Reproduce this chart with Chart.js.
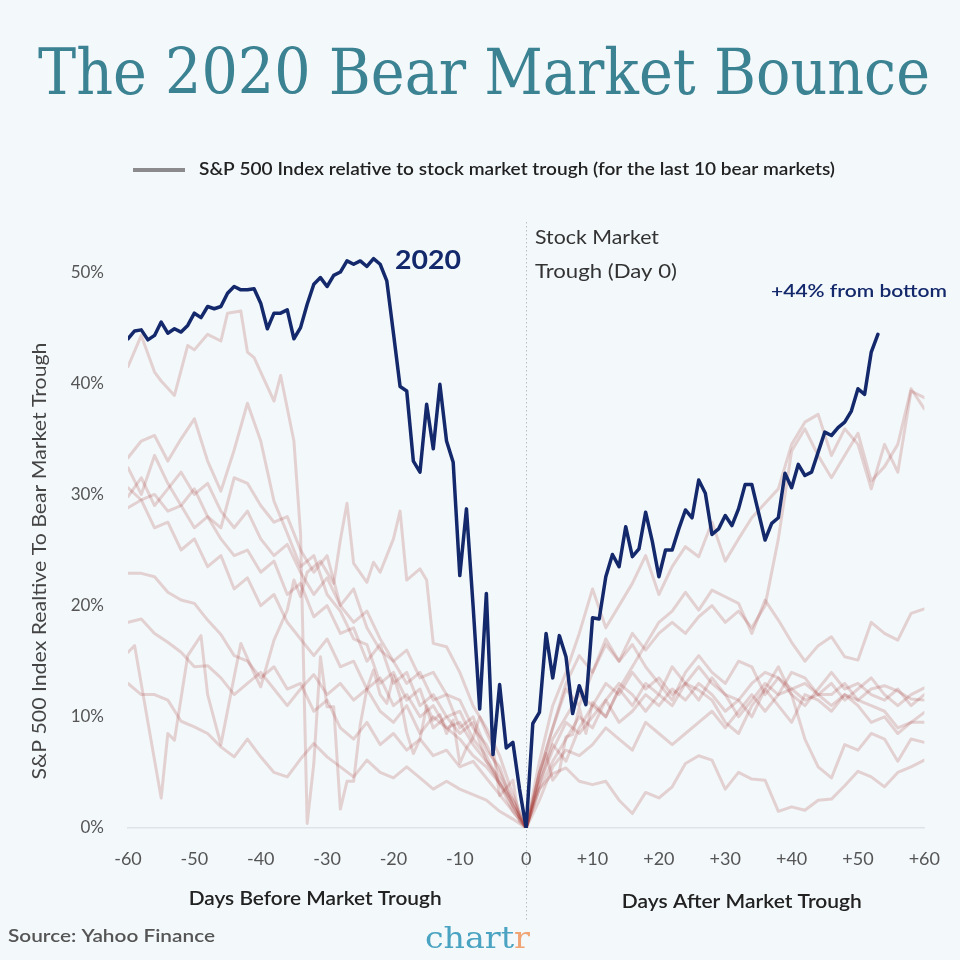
<!DOCTYPE html>
<html>
<head>
<meta charset="utf-8">
<script src="https://cdn.jsdelivr.net/npm/chart.js@4.4.1/dist/chart.umd.min.js"></script>
<style>
html,body{margin:0;padding:0;background:#f3f8fb;}
#wrap{width:960px;height:960px;position:relative;}
</style>
</head>
<body>
<div id="wrap"><canvas id="c"></canvas></div>
<script>
// ---------- DATA ----------
const xTicks = [-60,-50,-40,-30,-20,-10,0,10,20,30,40,50,60];
const yTicks = [0,10,20,30,40,50];

const days2020 = [-60,-59,-58,-57,-56,-55,-54,-53,-52,-51,-50,-49,-48,-47,-46,-45,-44,-43,-42,-41,
 -40,-39,-38,-37,-36,-35,-34,-33,-32,-31,-30,-29,-28,-27,-26,-25,-24,-23,-22,-21,
 -20,-19,-18,-17,-16,-15,-14,-13,-12,-11,-10,-9,-8,-7,-6,-5,-4,-3,-2,-1,0,
 1,2,3,4,5,6,7,8,9,10,11,12,13,14,15,16,17,18,19,20,21,22,23,24,25,26,27,28,29,30,
 31,32,33,34,35,36,37,38,39,40,41,42,43,44,45,46,47,48,49,50,51,52,53];
const values2020 = [44.0,44.7,44.8,43.9,44.3,45.5,44.5,44.9,44.6,45.2,
 46.3,45.9,46.9,46.7,46.9,48.1,48.7,48.4,48.4,48.5,
 47.2,44.9,46.3,46.3,46.6,44.0,45.0,47.1,48.9,49.5,
 48.7,49.7,50.0,51.0,50.7,51.0,50.5,51.2,50.7,49.2,
 44.5,39.7,39.3,33.0,32.0,38.1,34.1,39.9,34.8,32.9,
 22.7,28.7,20.0,10.7,21.1,6.6,12.9,7.2,7.7,3.5,
 0,
 9.4,10.4,17.5,13.5,17.3,15.4,10.3,12.8,11.1,18.9,
 18.8,22.6,24.6,23.5,27.1,24.4,25.1,28.4,25.8,22.6,
 25.0,25.0,26.9,28.6,27.9,31.3,30.1,26.4,26.9,28.1,
 27.2,28.7,30.9,30.9,28.4,25.9,27.4,27.9,31.9,30.6,
 32.7,31.7,32.0,33.8,35.6,35.3,36.0,36.5,37.5,39.5,
 39.0,42.8,44.4];

const evenDays = [-60,-58,-56,-54,-52,-50,-48,-46,-44,-42,-40,-38,-36,-34,-32,-30,-28,-26,-24,-22,
 -20,-18,-16,-14,-12,-10,-8,-6,-4,-2,0,2,4,6,8,10,12,14,16,18,20,22,24,26,28,30,32,34,36,38,40,
 42,44,46,48,50,52,54,56,58,60];

const daysBearA = [-60,-58,-56,-55,-53,-51,-50,-48,-46,-45,-43,-42,-41,-38,-37,-35,-34,-33,-32,-31,
 -30,-29,-28,-27,-26,-25,-24,-23,-22,-21,-20,-19,-18,-17,-16,-15,-14,-13,-12,-11,
 -10,-9,-8,-7,-6,-5,-4,-3,-2,-1,0,
 1,2,3,4,5,6,7,8,9,10,12,14,16,18,20,22,24,26,28,30,32,34,36,38,40,42,44,46,48,50,52,54,56,58,60];
const bearA = [41.5,44.3,41.0,40.2,38.9,43.4,43.0,44.4,43.8,46.3,
 46.5,42.8,42.3,38.4,40.7,34.8,26.5,0.4,5.8,15.4,
 10.9,10.9,1.7,4.2,4.2,9.3,12.5,14.2,12.0,11.2,
 13.7,11.8,8.6,6.7,8.0,11.0,9.7,10.2,8.5,9.7,
 5.8,7.2,8.1,10.0,8.6,7.3,2.9,3.6,4.3,0.6,0,
 2.2,4.9,6.7,4.3,5.1,8.2,8.4,10.8,8.5,11.3,
 10.0,12.5,14.5,16.5,18.5,19.5,21.2,19.6,21.4,20.8,20.2,17.5,20.5,18.7,16.7,
 15.0,16.4,17.2,15.4,15.1,18.5,17.5,16.9,19.3,19.7];

const bearB = [33.3,34.8,35.3,33.0,35.0,36.8,33.0,30.3,34.0,38.2,
 34.8,29.4,26.5,23.5,24.5,21.0,19.5,17.0,16.5,13.0,
 14.0,11.5,12.5,9.0,10.0,8.5,9.5,6.0,4.0,2.5,0,
 4.0,7.5,6.0,9.0,11.0,10.0,12.5,11.0,13.0,12.0,
 14.5,13.0,11.5,13.5,12.0,10.0,11.5,13.0,12.0,14.0,
 13.5,12.0,13.0,11.5,12.5,13.5,12.0,11.0,12.0,12.6];

const bearC = [32.4,30.0,33.5,31.0,29.0,30.5,28.0,27.0,31.5,31.0,
 29.0,27.5,28.0,25.0,23.0,24.5,20.0,21.5,18.0,16.0,
 15.0,13.0,14.0,11.5,12.0,9.0,10.0,7.0,5.5,2.0,0,
 5.0,9.0,12.5,11.0,14.0,16.5,15.0,17.5,16.0,17.5,
 18.5,17.5,19.0,20.0,18.5,19.5,18.0,20.0,26.0,33.9,
 35.9,33.5,31.5,33.5,35.5,31.2,32.5,34.5,39.5,37.7];

const bearD = [30.6,29.5,30.0,28.5,29.0,27.0,28.0,26.0,24.5,25.0,
 23.0,24.0,21.0,22.0,19.0,20.0,17.5,18.0,15.0,16.5,
 13.0,14.0,11.0,12.0,10.0,10.5,8.0,6.5,4.0,1.5,0,
 3.5,6.0,8.0,10.0,9.0,11.5,13.0,12.0,10.5,12.0,
 11.0,13.0,14.5,13.0,12.0,11.5,10.0,12.5,11.0,9.5,
 12.0,11.5,10.5,12.0,11.0,9.5,10.0,8.5,9.5,10.4];

const bearE = [28.8,29.5,27.0,27.5,25.0,26.0,23.5,24.5,21.5,22.5,
 20.0,21.0,18.5,17.0,15.5,17.0,14.5,15.0,12.5,13.5,
 11.0,12.0,10.0,11.0,9.0,9.5,7.5,6.0,4.5,2.0,0,
 4.5,8.0,10.0,12.0,11.0,13.0,12.0,14.0,12.5,13.5,
 12.0,13.0,12.4,11.5,9.5,8.5,11.0,12.5,14.5,12.0,
 8.0,5.5,4.5,7.5,7.0,8.5,8.0,6.0,8.0,7.7];

const bearF = [22.9,22.9,22.6,21.2,20.5,20.2,18.7,17.4,15.5,15.0,
 13.5,14.5,12.5,13.0,10.5,11.5,9.0,8.0,9.5,7.5,
 8.5,7.0,8.0,6.5,7.0,5.5,6.0,4.5,3.0,1.5,0,
 3.5,4.9,5.4,4.2,3.9,4.2,2.5,1.3,3.2,2.7,
 3.7,5.8,6.5,6.1,3.5,5.0,4.4,4.3,1.5,1.9,
 1.6,2.5,2.6,3.8,5.1,4.6,3.7,5.0,5.5,6.1];

const bearG = [18.5,18.8,17.5,16.7,15.8,14.5,14.6,13.5,12.0,13.0,
 14.0,12.5,11.0,12.5,13.8,12.0,13.0,11.5,12.5,10.5,
 9.5,11.0,8.5,10.0,9.0,8.0,6.5,5.5,4.0,2.0,0,
 4.0,7.0,9.5,8.5,10.0,11.5,9.5,10.5,12.0,11.0,
 12.5,11.5,13.0,12.0,10.5,11.5,13.0,14.0,13.5,12.5,
 13.0,12.0,11.0,12.0,11.5,12.5,12.8,12.3,11.6,11.5];

const bearH = [13.0,12.0,12.0,11.5,9.6,9.1,8.5,7.3,6.4,8.0,
 6.4,5.0,4.6,6.2,7.6,6.4,5.5,4.6,6.1,5.0,
 4.5,5.5,4.5,3.5,4.2,3.5,3.0,2.5,1.5,0.8,0,
 2.5,5.5,7.0,6.5,7.5,9.0,8.0,7.0,9.5,8.5,
 7.5,8.5,9.5,10.5,9.0,10.5,12.0,10.5,12.0,12.5,
 11.5,12.0,12.0,13.0,11.5,11.0,10.5,9.0,9.5,9.5];

const daysBearI = [-60,-59,-57,-55,-54,-53,-51,-49,-48,-46,-44,-43,-41,-40,-38,-36,-35,-34,-33,-31,
 -29,-28,-27,-26,-24,-23,-22,-20,-19,-18,-16,-15,-14,-12,-10,-8,-6,-4,-2,0,
 2,4,6,8,10,12,14,16,18,20,22,24,26,28,30,32,34,36,38,40,42,44,46,48,50,52,54,56,58,60];
const bearI = [15.8,16.4,9.5,2.7,8.5,7.9,15.5,17.3,12.0,7.5,
 13.6,16.6,13.9,12.7,16.9,19.6,22.3,20.8,23.0,24.0,
 22.0,25.9,29.2,23.8,22.1,23.9,23.0,26.0,28.5,22.3,
 23.3,22.3,16.6,16.3,14.0,11.0,9.0,6.5,3.0,0,
 5.0,9.0,13.0,15.5,14.0,17.0,15.0,16.5,14.5,13.0,
 11.5,14.0,15.5,14.0,13.0,15.0,14.5,12.0,13.5,12.0,
 11.0,12.5,14.0,12.5,13.0,12.0,11.5,12.5,11.0,12.0];

const bearJ = [29.8,31.5,29.0,30.5,32.0,30.0,31.0,28.5,27.0,28.5,
 26.0,24.5,25.5,23.0,21.0,22.5,20.0,18.5,19.5,17.0,
 15.0,16.0,13.5,14.0,12.0,11.5,9.0,7.5,5.0,2.5,0,
 6.0,11.0,14.0,17.5,21.5,18.0,20.0,22.0,24.5,21.0,
 23.5,25.3,24.4,27.5,24.0,26.0,27.9,29.2,30.5,34.5,
 36.5,37.2,33.5,35.9,34.5,30.5,34.5,32.0,39.3,38.7];

// ---------- BUILD ----------
const pts = (xs, ys) => ys.map((v, i) => ({x: xs[i], y: v}));
const FAINT = 'rgba(160,45,35,0.19)';
const NAVY = '#14296b';
const faintSets = [
  [daysBearA, bearA],[evenDays, bearB],[evenDays, bearC],[evenDays, bearD],[evenDays, bearE],
  [evenDays, bearF],[evenDays, bearG],[evenDays, bearH],[daysBearI, bearI],[evenDays, bearJ]
].map(([xs, ys]) => ({
  data: pts(xs, ys), borderColor: FAINT, borderWidth: 3, pointRadius: 0,
  tension: 0, borderJoinStyle: 'round', borderCapStyle: 'round'
}));

const datasets = [{
  label: '2020', data: pts(days2020, values2020), borderColor: NAVY, borderWidth: 3.5,
  pointRadius: 0, tension: 0, borderJoinStyle: 'round', borderCapStyle: 'round'
}].concat(faintSets);

function drawFit(ctx, text, x, y, font, color, width, align) {
  ctx.save();
  ctx.font = font;
  ctx.fillStyle = color;
  ctx.textBaseline = 'middle';
  ctx.textAlign = align || 'left';
  const w = ctx.measureText(text).width;
  const s = width ? width / w : 1;
  ctx.translate(x, y);
  ctx.scale(s, 1);
  ctx.fillText(text, 0, 0);
  ctx.restore();
}

const annot = {
  id: 'annot',
  beforeDatasetsDraw(chart) {
    const ctx = chart.ctx, xs = chart.scales.x;
    const px = Math.round(xs.getPixelForValue(0)) + 0.5;
    ctx.save();
    ctx.strokeStyle = '#b9bec4';
    ctx.lineWidth = 1;
    ctx.setLineDash([1.5, 2.5]);
    ctx.beginPath();
    ctx.moveTo(px, 222);
    ctx.lineTo(px, 922);
    ctx.stroke();
    ctx.restore();
  },
  afterDraw(chart) {
    const ctx = chart.ctx, xs = chart.scales.x;
    // title
    drawFit(ctx, 'The 2020 Bear Market Bounce', 484, 77, '64px "DejaVu Serif"', '#3b8292', 892, 'center');
    // legend
    ctx.save();
    ctx.strokeStyle = '#8b8b8e';
    ctx.lineWidth = 4;
    ctx.beginPath(); ctx.moveTo(133, 170); ctx.lineTo(185, 170); ctx.stroke();
    ctx.restore();
    drawFit(ctx, 'S&P 500 Index relative to stock market trough (for the last 10 bear markets)', 199, 170, '600 17px Lato', '#222', 636, 'left');
    // y axis title
    ctx.save();
    ctx.translate(40, 561);
    ctx.rotate(-Math.PI / 2);
    drawFit(ctx, 'S&P 500 Index Realtive To Bear Market Trough', 0, 0, '19px Lato', '#444', 437, 'center');
    ctx.restore();
    // annotations
    drawFit(ctx, '2020', 395, 261, 'bold 26px Lato', NAVY, 66, 'left');
    drawFit(ctx, 'Stock Market', 535, 238, '19px Lato', '#333', 124, 'left');
    drawFit(ctx, 'Trough (Day 0)', 535, 272, '19px Lato', '#333', 142, 'left');
    drawFit(ctx, '+44% from bottom', 859, 291, '600 18px Lato', NAVY, 176, 'center');
    // axis sub-titles
    drawFit(ctx, 'Days Before Market Trough', xs.getPixelForValue(-31.8), 899, '600 20px Lato', '#222', 253, 'center');
    drawFit(ctx, 'Days After Market Trough', xs.getPixelForValue(32.5), 902, '600 20px Lato', '#222', 240, 'center');
    // footer
    drawFit(ctx, 'Source: Yahoo Finance', 8, 936, '600 18px Lato', '#555', 207, 'left');
    ctx.save();
    ctx.font = '30px "DejaVu Serif"';
    ctx.textBaseline = 'alphabetic';
    const w1 = ctx.measureText('chart').width, w2 = ctx.measureText('r').width;
    const s = 105 / (w1 + w2);
    ctx.translate(425, 948);
    ctx.scale(s, 1);
    ctx.fillStyle = '#49a3c1';
    ctx.fillText('chart', 0, 0);
    ctx.fillStyle = '#f0a473';
    ctx.fillText('r', w1, 0);
    ctx.restore();
  }
};

new Chart(document.getElementById('c'), {
  type: 'line',
  data: { datasets },
  plugins: [annot],
  options: {
    responsive: true,
    maintainAspectRatio: false,
    animation: false,
    layout: { padding: { top: 222, right: 35, bottom: 0, left: 0 } },
    plugins: { legend: { display: false }, tooltip: { enabled: false }, title: { display: false } },
    scales: {
      x: {
        type: 'linear', min: -60, max: 60,
        afterFit(scale) { scale.height = 132; },
        afterBuildTicks(scale) { scale.ticks = xTicks.map(v => ({ value: v })); },
        grid: { display: false, drawTicks: false },
        border: { display: true, color: '#dde3e8', width: 1.5 },
        ticks: {
          padding: 20, color: '#555',
          font: { family: 'Lato', size: 18, weight: 400 },
          maxRotation: 0, autoSkip: false,
          callback: v => (v > 0 ? '+' + v : '' + v)
        }
      },
      y: {
        min: 0, max: 54.5,
        afterFit(scale) { scale.width = 128; },
        afterBuildTicks(scale) { scale.ticks = yTicks.map(v => ({ value: v })); },
        grid: { display: false, drawTicks: false },
        border: { display: false },
        ticks: {
          padding: 24, color: '#555',
          font: { family: 'Lato', size: 17, weight: 400 },
          callback: v => v + '%'
        }
      }
    }
  }
});
</script>
</body>
</html>
